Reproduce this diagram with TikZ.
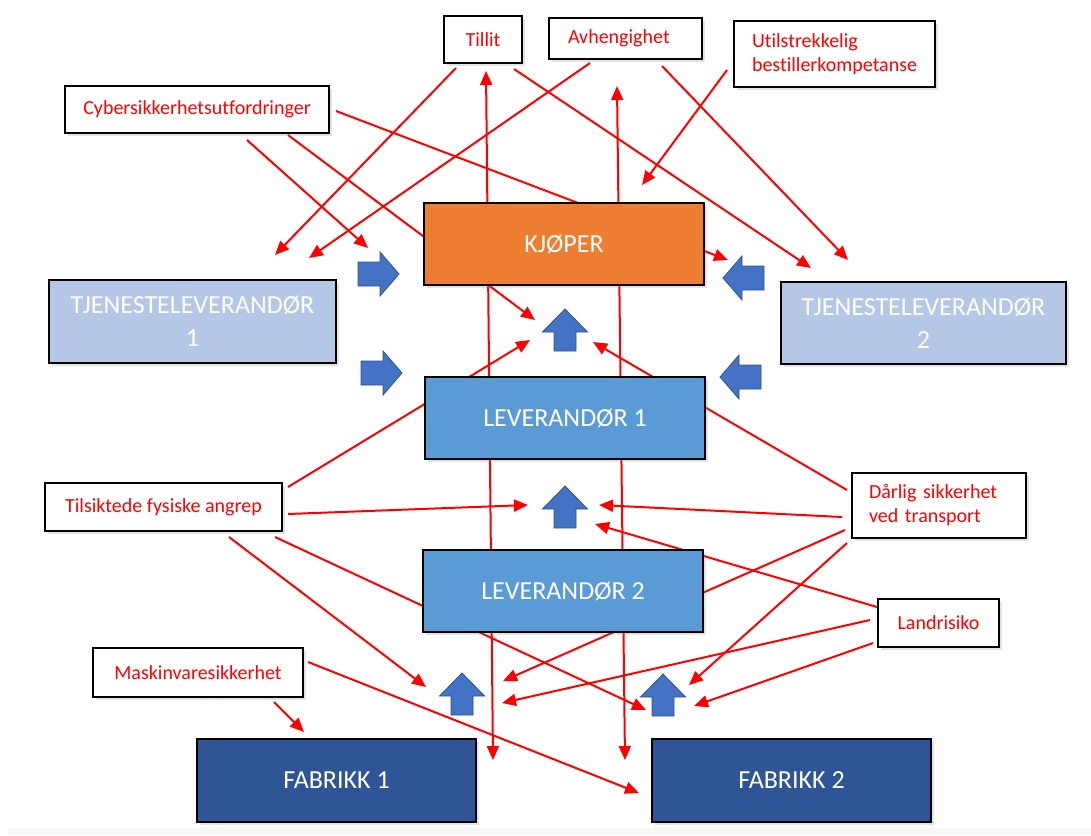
\documentclass[tikz,border=0pt]{standalone}
\usepackage{fontspec}
\setmainfont{Carlito}[Ligatures=NoCommon]
\usetikzlibrary{arrows.meta,shadows}
\definecolor{riskred}{HTML}{FF0000}
\definecolor{buyer}{HTML}{ED7D31}
\definecolor{service}{HTML}{B4C7E7}
\definecolor{supplier}{HTML}{5B9BD5}
\definecolor{factory}{HTML}{2F5597}
\definecolor{flow}{HTML}{4472C4}
\definecolor{flowedge}{HTML}{2F528F}
\begin{document}
\begin{tikzpicture}[x=0.5pt,y=-0.5pt,
  risk/.style={draw=riskred, line width=1pt, -{Triangle[length=7pt,width=6pt]}},
  riskboth/.style={draw=riskred, line width=1pt, {Triangle[length=7pt,width=6pt]}-{Triangle[length=7pt,width=6pt]}},
  shadowed/.style={drop shadow={shadow xshift=1.5pt,shadow yshift=-1.5pt,opacity=0.22}},
  actor/.style={draw=black, line width=1.1pt, inner sep=0pt, text=white, align=center,
    font=\fontsize{13}{16.5}\selectfont, shadowed},
  threat/.style={draw=black, fill=white, line width=1.1pt, inner sep=0pt, text=riskred,
    font=\fontsize{10}{12}\selectfont, shadowed},
  flowarrow/.style={fill=flow, draw=flowedge, line width=0.4pt},
  uparr/.pic={\filldraw[flowarrow] (0,0) -- (22.5,23) -- (11,23) -- (11,42) -- (-11,42) -- (-11,23) -- (-22.5,23) -- cycle;},
  rightarr/.pic={\filldraw[flowarrow] (0,0) -- (-19,22) -- (-19,12) -- (-41,12) -- (-41,-12) -- (-19,-12) -- (-19,-22) -- cycle;},
  leftarr/.pic={\filldraw[flowarrow] (0,0) -- (19,22) -- (19,12) -- (41,12) -- (41,-12) -- (19,-12) -- (19,-22) -- cycle;}
]
\useasboundingbox (0,0) rectangle (1091,835);
\fill[black!3] (8,828) rectangle (1091,835);

% end points of the risk arrows
\coordinate (a1s) at (456,68);   \coordinate (a1e) at (275,255);
\coordinate (a2s) at (514,69);   \coordinate (a2e) at (811,268);
\coordinate (vLb) at (493,760);  \coordinate (vLt) at (486,71);
\coordinate (a4s) at (590,63);   \coordinate (a4e) at (309,258);
\coordinate (a5s) at (662,66);   \coordinate (a5e) at (848,260);
\coordinate (vRb) at (625,760);  \coordinate (vRt) at (617,86);
\coordinate (a7s) at (727,70);   \coordinate (a7e) at (642,185);
\coordinate (a8s) at (247,140);  \coordinate (a8e) at (368,248);
\coordinate (a9s) at (288,135);  \coordinate (a9e) at (535,320);
\coordinate (a10s) at (336,111); \coordinate (a10e) at (728,260);
\coordinate (a11s) at (288,487); \coordinate (a11e) at (530,340);
\coordinate (a12s) at (847,490); \coordinate (a12e) at (593,342);
\coordinate (a13s) at (288,514); \coordinate (a13e) at (528,505);
\coordinate (a14s) at (842,517); \coordinate (a14e) at (599,505);
\coordinate (a15s) at (877,607); \coordinate (a15e) at (595,524);
\coordinate (a16s) at (229,537); \coordinate (a16e) at (426,687);
\coordinate (a17s) at (275,537); \coordinate (a17e) at (646,710);
\coordinate (a18s) at (845,530); \coordinate (a18e) at (503,681);
\coordinate (a19s) at (847,543); \coordinate (a19e) at (689,685);
\coordinate (a20s) at (870,620); \coordinate (a20e) at (502,703);
\coordinate (a21s) at (873,643); \coordinate (a21e) at (694,706);
\coordinate (a22s) at (308,662); \coordinate (a22e) at (639,793);
\coordinate (a23s) at (274,702); \coordinate (a23e) at (304,732);

% risk arrows, drawn first so the boxes cover them
\draw[risk] (a1s) -- (a1e);
\draw[risk] (a2s) -- (a2e);
\draw[riskboth] (vLb) -- (vLt);
\draw[risk] (a4s) -- (a4e);
\draw[risk] (a5s) -- (a5e);
\draw[riskboth] (vRb) -- (vRt);
\draw[risk] (a7s) -- (a7e);
\draw[risk] (a8s) -- (a8e);
\draw[risk] (a9s) -- (a9e);
\draw[risk] (a10s) -- (a10e);
\draw[risk] (a11s) -- (a11e);
\draw[risk] (a12s) -- (a12e);
\draw[risk] (a13s) -- (a13e);
\draw[risk] (a14s) -- (a14e);
\draw[risk] (a15s) -- (a15e);
\draw[risk] (a16s) -- (a16e);
\draw[risk] (a17s) -- (a17e);
\draw[risk] (a18s) -- (a18e);
\draw[risk] (a19s) -- (a19e);
\draw[risk] (a20s) -- (a20e);
\draw[risk] (a21s) -- (a21e);
\draw[risk] (a22s) -- (a22e);
\draw[risk] (a23s) -- (a23e);

% actors in the supply chain
\node[actor, fill=buyer, minimum width=140pt, minimum height=41pt] (buyer) at (564,244) {KJØPER};
\node[actor, fill=service, minimum width=143.5pt, minimum height=41.5pt] (svc1) at (192.5,321.5) {TJENESTELEVERANDØR\\1};
\node[actor, fill=service, minimum width=142.5pt, minimum height=41pt] (svc2) at (923.5,323) {TJENESTELEVERANDØR\\2};
\node[actor, fill=supplier, minimum width=140pt, minimum height=41pt] (sup1) at (565,418) {LEVERANDØR 1};
\node[actor, fill=supplier, minimum width=140pt, minimum height=41pt] (sup2) at (563,591) {LEVERANDØR 2};
\node[actor, fill=factory, minimum width=139.5pt, minimum height=41.5pt] (fac1) at (336.5,780.5) {FABRIKK 1};
\node[actor, fill=factory, minimum width=139.5pt, minimum height=41.5pt] (fac2) at (791.5,780.5) {FABRIKK 2};

% risk labels
\node[threat, minimum width=39pt, minimum height=23.5pt] (trust) at (483,39.5) {Tillit};
\node[threat, minimum width=76.5pt, minimum height=20.5pt, text width=57.5pt, align=left] (dep) at (625.5,38.5) {Avhengighet};
\node[threat, minimum width=100.5pt, minimum height=33pt, text width=82.5pt, align=left] (comp) at (834.5,54) {Utilstrekkelig\\bestillerkompetanse};
\node[threat, minimum width=132pt, minimum height=23.5pt] (cyber) at (197,109.5) {Cybersikkerhetsutfordringer};
\node[threat, minimum width=118.5pt, minimum height=24pt] (attack) at (163.5,507) {Tilsiktede fysiske angrep};
\node[threat, minimum width=87pt, minimum height=32.5pt, text width=70pt, align=left] (transp) at (939,505.5) {Dårlig sikkerhet\\ved transport};
\node[threat, minimum width=60.5pt, minimum height=24pt] (country) at (938.5,623) {Landrisiko};
\node[threat, minimum width=105pt, minimum height=24.5pt] (hw) at (198,672.5) {Maskinvaresikkerhet};

% flow arrows between the actors
\pic at (399,274) {rightarr};
\pic at (402,373) {rightarr};
\pic at (723,278) {leftarr};
\pic at (720,377) {leftarr};
\pic at (565,309) {uparr};
\pic at (565,486) {uparr};
\pic at (462,673) {uparr};
\pic at (663,674) {uparr};
\end{tikzpicture}
\end{document}
